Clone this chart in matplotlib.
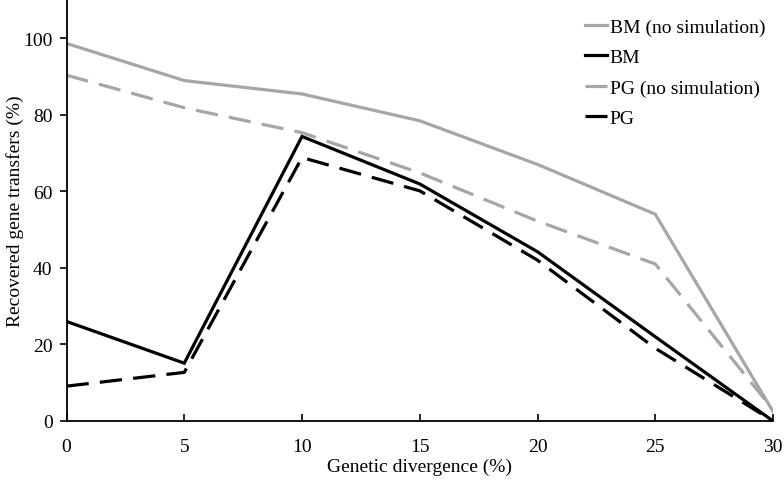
import matplotlib
matplotlib.use("Agg")
import matplotlib.pyplot as plt

divergence = [0, 5, 10, 15, 20, 25, 30]
bm_nosim = [98.6, 88.9, 85.4, 78.4, 67.0, 54.0, 2.5]
bm = [26.0, 15.1, 74.3, 61.9, 44.2, 22.0, 0.0]
pg_nosim = [90.3, 81.8, 75.3, 64.8, 52.2, 41.0, 3.0]
pg = [9.1, 12.7, 68.8, 60.1, 42.0, 19.0, 0.0]
y_ticks = [0, 20, 40, 60, 80, 100]
x_ticks = [0, 5, 10, 15, 20, 25, 30]

plt.rcParams['font.family'] = ['Liberation Serif', 'DejaVu Serif']

fig = plt.figure(figsize=(7.84, 4.85), dpi=100)
ax = fig.add_axes([66.5/784, 63/485, (773-66.5)/784, 422/485])

grey = '#a6a6a6'
ax.plot(divergence, bm_nosim, color=grey, lw=2.3, label='BM (no simulation)', solid_joinstyle='miter')
ax.plot(divergence, bm, color='black', lw=2.3, label='BM', solid_joinstyle='miter')
ax.plot(divergence, pg_nosim, color=grey, lw=2.3, dashes=(7, 3.5), label='PG (no simulation)')
ax.plot(divergence, pg, color='black', lw=2.3, dashes=(7, 3.5), label='PG')

ax.set_xlim(0, 30)
ax.set_ylim(0, 110.2)
ax.set_xticks(x_ticks)
ax.set_yticks(y_ticks)
ax.spines['top'].set_visible(False)
ax.spines['right'].set_visible(False)
for s in ['left', 'bottom']:
    ax.spines[s].set_linewidth(1.3)
ax.tick_params(axis='x', direction='in', length=5, width=1.2, labelsize=14, pad=12)
ax.tick_params(axis='y', direction='out', length=5, width=1.2, labelsize=14, pad=5)
ax.set_xlabel('Genetic divergence (%)', fontsize=14, labelpad=2)
ax.set_ylabel('Recovered gene transfers (%)', fontsize=14)
ax.yaxis.set_label_coords((24 - 66.5) / 706.5, 0.5)

leg = ax.legend(loc='upper right', bbox_to_anchor=(765/784, 466/485), bbox_transform=fig.transFigure,
                frameon=False, fontsize=14, borderaxespad=0, borderpad=0,
                handlelength=1.1, handletextpad=0.15, labelspacing=0.66)

fig.savefig('out.png', dpi=100)
